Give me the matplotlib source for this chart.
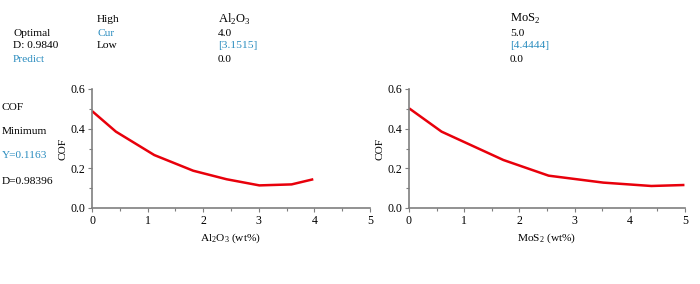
import matplotlib
matplotlib.use('Agg')
import matplotlib.pyplot as plt
from matplotlib.ticker import MultipleLocator, FormatStrFormatter

plt.rcParams['font.family'] = ['Liberation Serif', 'DejaVu Serif']
plt.rcParams['mathtext.fontset'] = 'custom'
plt.rcParams['mathtext.rm'] = 'Liberation Serif'
plt.rcParams['font.size'] = 8.2

# data
al2o3_x = [0, 0.43, 1.12, 1.82, 2.42, 3.01, 3.59, 3.98]
al2o3_cof = [0.489, 0.385, 0.267, 0.188, 0.145, 0.114, 0.119, 0.145]
mos2_x = [0, 0.59, 1.71, 2.53, 3.52, 4.39, 4.99]
mos2_cof = [0.503, 0.385, 0.242, 0.163, 0.128, 0.111, 0.116]

blue = '#2a8cbf'
gray = '#7f7f7f'

fig = plt.figure(figsize=(7, 2.84), dpi=100)

def px(x, y):
    return x / 700, 1 - y / 284

# header table
fig.text(*px(97, 20), 'High', va='center')
fig.text(*px(218, 19), r'Al$_2$O$_3$', va='center', fontsize=9)
fig.text(*px(510, 19), r'MoS$_2$', va='center', fontsize=9)
fig.text(*px(13, 33), 'Optimal', va='center')
fig.text(*px(97, 33), 'Cur', va='center', color=blue)
fig.text(*px(218, 33), '4.0', va='center')
fig.text(*px(510, 33), '5.0', va='center')
fig.text(*px(13, 46), 'D: 0.9840', va='center')
fig.text(*px(97, 46), 'Low', va='center')
fig.text(*px(218, 46), '[3.1515]', va='center', color=blue)
fig.text(*px(510, 46), '[4.4444]', va='center', color=blue)
fig.text(*px(13, 60), 'Predict', va='center', color=blue)
fig.text(*px(218, 60), '0.0', va='center')
fig.text(*px(510, 60), '0.0', va='center')

# response column
fig.text(*px(2, 107), 'COF', va='center')
fig.text(*px(2, 132), 'Minimum', va='center')
fig.text(*px(2, 156), 'Y=0.1163', va='center', color=blue)
fig.text(*px(2, 181), 'D=0.98396', va='center')

def panel(rect, x, y, xlabel):
    ax = fig.add_axes(rect)
    ax.plot(x, y, color='#e8000b', lw=1.8, solid_capstyle='butt')
    ax.set_xlim(0, 5)
    ax.set_ylim(0, 0.6)
    ax.xaxis.set_major_locator(MultipleLocator(1))
    ax.xaxis.set_minor_locator(MultipleLocator(0.5))
    ax.yaxis.set_major_locator(MultipleLocator(0.2))
    ax.yaxis.set_minor_locator(MultipleLocator(0.1))
    ax.yaxis.set_major_formatter(FormatStrFormatter('%.1f'))
    for s in ['top', 'right']:
        ax.spines[s].set_visible(False)
    for s in ['left', 'bottom']:
        ax.spines[s].set_color(gray)
        ax.spines[s].set_linewidth(1.2)
    ax.tick_params(which='major', length=3, width=0.8, color=gray, pad=2,
                   labelsize=8.5)
    ax.tick_params(which='minor', length=2, width=0.8, color=gray)
    ax.set_ylabel('COF', labelpad=2)
    ax.set_xlabel(xlabel, labelpad=3)
    return ax

panel([92 / 700, 1 - 208 / 284, 278 / 700, 119 / 284], al2o3_x, al2o3_cof,
      r'Al$_2$O$_3$ (wt%)')
panel([409 / 700, 1 - 208 / 284, 276 / 700, 119 / 284], mos2_x, mos2_cof,
      r'MoS$_2$ (wt%)')

fig.savefig('out.png', dpi=100)
